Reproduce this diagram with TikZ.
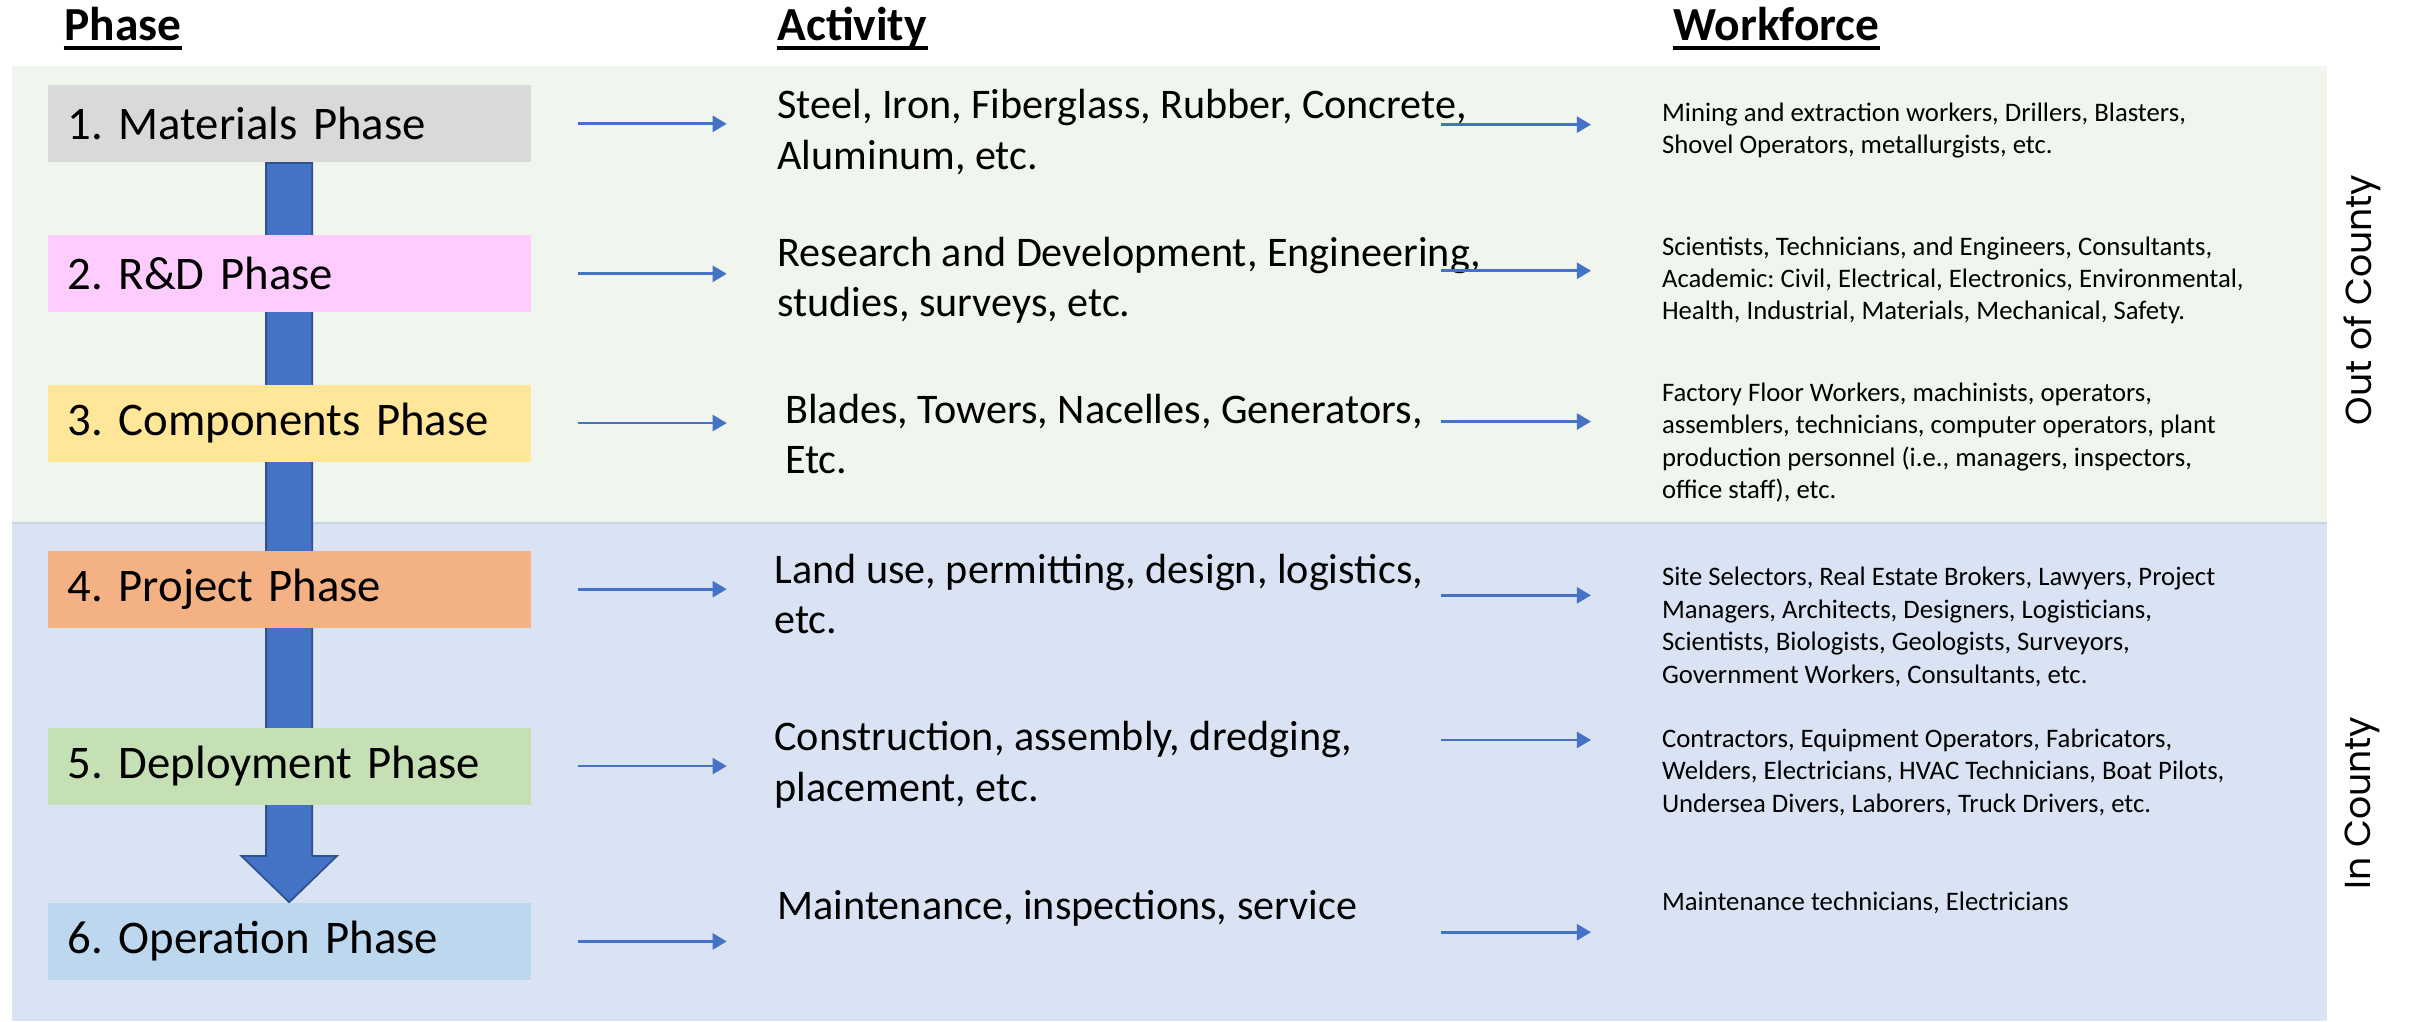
\documentclass[tikz,border=0pt]{standalone}
\usepackage{fontspec}
\setmainfont{Carlito}
\newfontfamily\gothic{Poppins}
\frenchspacing
\usetikzlibrary{arrows.meta,calc}
\pgfdeclarelayer{bands}
\pgfdeclarelayer{behind}
\pgfsetlayers{bands,behind,main}
\definecolor{bandgreen}{HTML}{F0F5EE}
\definecolor{bandblue}{HTML}{DAE3F3}
\definecolor{bandline}{HTML}{C9D5E8}
\definecolor{boxgray}{HTML}{D9D9D9}
\definecolor{boxpink}{HTML}{FFCCFF}
\definecolor{boxyellow}{HTML}{FFE699}
\definecolor{boxorange}{HTML}{F4B183}
\definecolor{boxgreen}{HTML}{C5E0B4}
\definecolor{boxblue}{HTML}{BDD7EE}
\definecolor{arrowblue}{HTML}{4472C4}
\definecolor{arrowdark}{HTML}{2F528F}

\begin{document}
\begin{tikzpicture}[x=0.015383cm,y=-0.015383cm,
	phasebox/.style={minimum width=4.83cm,minimum height=0.77cm,text width=4.43cm,inner xsep=0.2cm,inner ysep=0pt,align=left,font=\fontsize{13.3}{16}\selectfont},
	activity/.style={anchor=base west,inner sep=0pt,align=left,font=\fontsize{12}{14.4}\selectfont},
	workers/.style={anchor=base west,inner sep=0pt,align=left,font=\fontsize{7.6}{9.2}\selectfont},
	header/.style={anchor=base,inner sep=0pt,font=\fontsize{13.5}{16}\selectfont\bfseries},
	underbar/.style={line width=1.1pt},
	region/.style={rotate=90,inner sep=0pt,font=\gothic\fontsize{10.3}{12}\selectfont},
	flow/.style={draw=arrowblue,line width=0.8pt,-{Triangle[length=4pt,width=4.5pt]}},
	bigarrow/.style={fill=arrowblue,draw=arrowdark,line width=0.5pt}]
	\useasboundingbox (0,0) rectangle (1568,664);
	% bands
	\begin{pgfonlayer}{bands}
		\fill[bandgreen] (8,43) rectangle (1513,340);
		\fill[bandblue] (8,340) rectangle (1513,664);
		\draw[bandline,line width=0.8pt] (8,340) -- (1513,340);
	\end{pgfonlayer}
	% headers
	\node[header] (hphase) at (80,26) {Phase};
	\node[header] (hactivity) at (554,26) {Activity};
	\node[header] (hworkforce) at (1155,26) {Workforce};
	\foreach \h in {hphase,hactivity,hworkforce}
		\draw[underbar] ($(\h.base west)+(0,5)$) -- ($(\h.base east)+(0,5)$);
	% phases
	\foreach \n/\y/\col/\txt in {1/80.5/boxgray/{1. Materials Phase},2/178/boxpink/{2. R\&D Phase},3/275/boxyellow/{3. Components Phase},4/383/boxorange/{4. Project Phase},5/498/boxgreen/{5. Deployment Phase},6/612/boxblue/{6. Operation Phase}}
		\node[phasebox,fill=\col] (p\n) at (188,\y) {\txt};
	% big arrow behind the boxes
	\begin{pgfonlayer}{behind}
		\draw[bigarrow] ($(p1.south)+(-15,0)$) -- ($(p6.north)+(-15,-30)$) -- ($(p6.north)+(-31,-30)$) -- (p6.north) -- ($(p6.north)+(31,-30)$) -- ($(p6.north)+(15,-30)$) -- ($(p1.south)+(15,0)$) -- cycle;
	\end{pgfonlayer}
	% activities
	\node[activity] (a1) at (505,110) {Steel, Iron, Fiberglass, Rubber, Concrete,\\Aluminum, etc.};
	\node[activity] (a2) at (505,206) {Research and Development, Engineering,\\studies, surveys, etc.};
	\node[activity] (a3) at (510,308) {Blades, Towers, Nacelles, Generators,\\Etc.};
	\node[activity] (a4) at (503,412) {Land use, permitting, design, logistics,\\etc.};
	\node[activity] (a5) at (503,521) {Construction, assembly, dredging,\\placement, etc.};
	\node[activity] (a6) at (505,598) {Maintenance, inspections, service};
	% workforce
	\node[workers] (w1) at (1080,100) {Mining and extraction workers, Drillers, Blasters,\\Shovel Operators, metallurgists, etc.};
	\node[workers] (w2) at (1080,208) {Scientists, Technicians, and Engineers, Consultants,\\Academic: Civil, Electrical, Electronics, Environmental,\\Health, Industrial, Materials, Mechanical, Safety.};
	\node[workers] (w3) at (1080,324) {Factory Floor Workers, machinists, operators,\\assemblers, technicians, computer operators, plant\\production personnel (i.e., managers, inspectors,\\office staff), etc.};
	\node[workers] (w4) at (1080,444) {Site Selectors, Real Estate Brokers, Lawyers, Project\\Managers, Architects, Designers, Logisticians,\\Scientists, Biologists, Geologists, Surveyors,\\Government Workers, Consultants, etc.};
	\node[workers] (w5) at (1080,528) {Contractors, Equipment Operators, Fabricators,\\Welders, Electricians, HVAC Technicians, Boat Pilots,\\Undersea Divers, Laborers, Truck Drivers, etc.};
	\node[workers] (w6) at (1080,592) {Maintenance technicians, Electricians};
	% arrows
	\foreach \n in {1,...,6}
		\draw[flow] ($(p\n.east)+(30,0)$) -- ($(p\n.east)+(127,0)$);
	\foreach \n/\y in {1/81,2/176,3/274,4/387,5/481,6/606}
		{
			\coordinate (e\n) at (937,\y);
			\draw[flow,shorten >=20pt] (e\n) -- (w\n.west |- e\n);
		}
	% county labels
	\node[region] (out) at (1536,195) {Out of County};
	\node[region] (in) at (1536,522) {In County};
\end{tikzpicture}
\end{document}
